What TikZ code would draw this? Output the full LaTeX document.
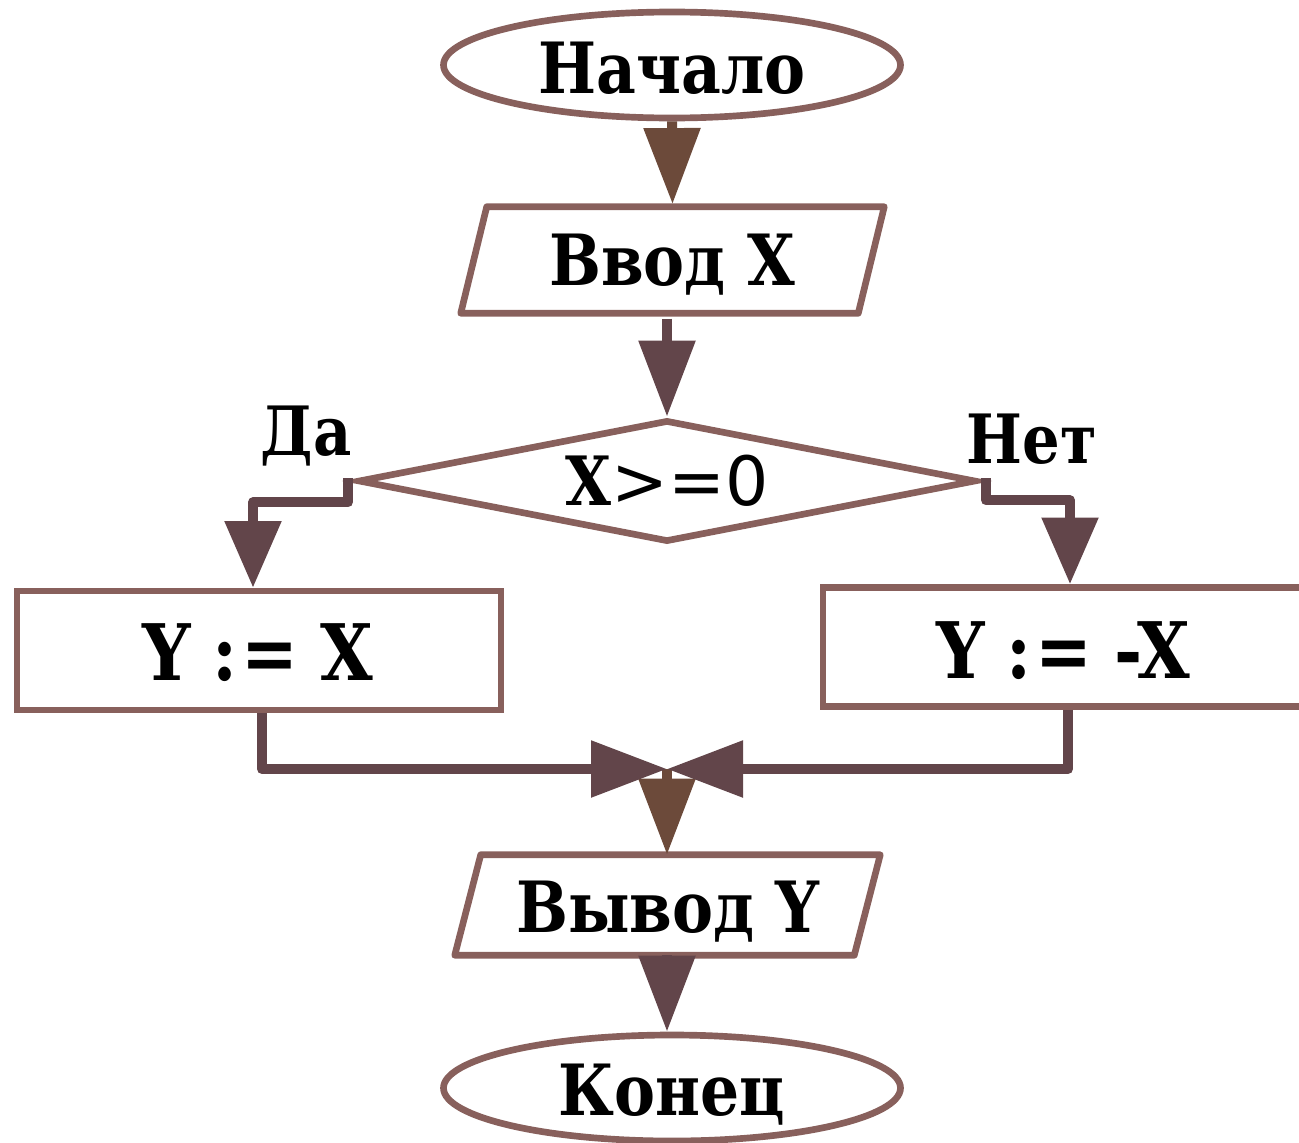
\documentclass[tikz,border=0pt]{standalone}
\usepackage{fontspec}
\setmainfont{DejaVu Serif}[BoldFeatures={FakeStretch=0.87}]
\newfontfamily\symfont{DejaVu Sans}
\usetikzlibrary{arrows.meta,shapes.geometric}
\definecolor{edgec}{HTML}{88605C}
\definecolor{connc}{HTML}{62454A}
\definecolor{brownc}{HTML}{6C4A3A}
\tikzset{
  outline/.style={draw=edgec, line width=5pt, fill=white, inner sep=0pt},
  term/.style={outline, ellipse, minimum width=342.75pt, minimum height=79.5pt},
  procbox/.style={outline, rectangle, minimum width=363pt, minimum height=89.25pt},
  decbox/.style={outline, diamond, aspect=5, minimum width=463.5pt, minimum height=91.5pt},
  iobox/.style={inner sep=0pt},
  pgram/.style={draw=edgec, line width=5pt, line join=round, fill=white},
  txt/.style={inner sep=0pt, anchor=base, font=\bfseries\fontsize{53}{60}\selectfont},
  bigtxt/.style={txt, font=\bfseries\fontsize{58.5}{64}\selectfont},
  lbl/.style={txt, font=\bfseries\fontsize{51}{56}\selectfont},
  conn/.style={draw=connc, line width=7.5pt, line join=round, -{Triangle[length=57pt,width=41pt]}},
  branch/.style={conn, -{Triangle[length=50pt,width=41pt]}}
}
\begin{document}
\begin{tikzpicture}[x=0.75pt,y=-0.75pt]
\useasboundingbox (0,0) rectangle (1299,1142);
% shapes
\node[term] (start) at (672,65) {};
\node[iobox, minimum width=317.25pt, minimum height=79.5pt] (inp) at (672.5,260) {};
\draw[pgram] ([xshift=19.5pt]inp.north west) -- (inp.north east) -- ([xshift=-19.5pt]inp.south east) -- (inp.south west) -- cycle;
\node[decbox] (dec) at (667,481) {};
\node[procbox] (yes) at (259,650.5) {};
\node[procbox] (no) at (1065,647) {};
\node[iobox, minimum width=318.75pt, minimum height=75pt] (out) at (667.5,905) {};
\draw[pgram] ([xshift=19.5pt]out.north west) -- (out.north east) -- ([xshift=-19.5pt]out.south east) -- (out.south west) -- cycle;
\node[term] (end) at (672,1088) {};
% texts
\node[txt] (starttext) at (672,93) {Начало};
\node[txt] (inptext) at (672,285) {Ввод X};
\node[txt, font=\fontsize{51}{56}\selectfont] (dectext) at (667,505) {\textbf{X}{\symfont >=0}};
\node[bigtxt] (yestext) at (258,680) {Y\hspace{0.28em}:\hspace{0.05em}=\hspace{0.28em}X};
\node[bigtxt] (notext) at (1063,678) {Y\hspace{0.28em}:\hspace{0.05em}=\hspace{0.28em}-X};
\node[txt] (outtext) at (668,932) {Вывод Y};
\node[txt] (endtext) at (672,1115) {Конец};
\node[lbl] (da) at (306,455) {Да};
\node[lbl] (net) at (1032,463) {Нет};
% connectors
\coordinate (m) at (667,769);
\draw[conn, draw=brownc] (start.south) -- ([yshift=2pt]inp.north);
\draw[conn] ([yshift=-4pt]dec.north |- inp.south) -- (dec.north);
\draw[branch] ([shift={(-5pt,2pt)}]dec.west) -- ++(0,24) -| ([xshift=-4.5pt]yes.north);
\draw[branch] ([shift={(5pt,2pt)}]dec.east) -- ++(0,22) -| ([xshift=3.75pt]no.north);
\draw[conn, draw=brownc] (m) -- (m |- out.north);
\draw[conn] ([xshift=2.25pt]yes.south) |- (m);
\draw[conn] ([xshift=2.25pt]no.south) |- (m);
\draw[conn] (m |- out.south) -- (m |- end.north);
\end{tikzpicture}
\end{document}
